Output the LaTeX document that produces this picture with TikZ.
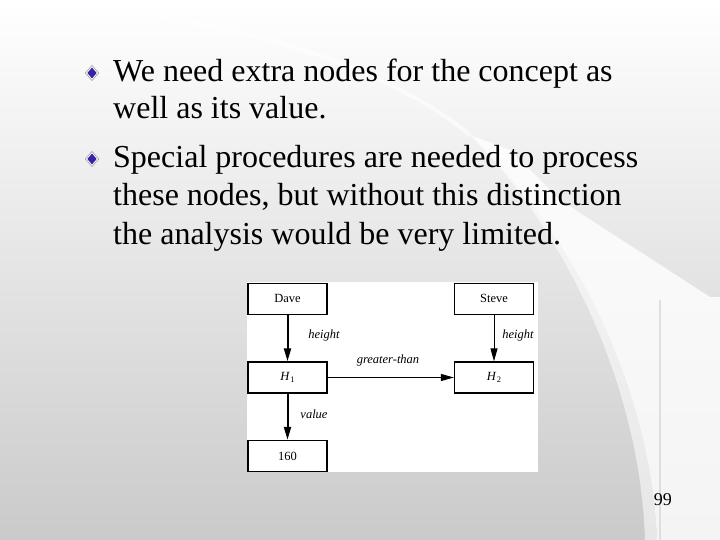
\documentclass[tikz,border=0pt]{standalone}
\usepackage{fontspec}
\setmainfont{Liberation Serif}
\usetikzlibrary{arrows.meta,calc}
\definecolor{bulletblue}{HTML}{3A22A8}
\definecolor{bgbottom}{HTML}{CACACA}
\newcommand\mybullet[1]{%
  \fill[gray!80] ($#1+(0,-8)$) -- ($#1+(7,0)$) -- ($#1+(0,8)$) -- ($#1+(-7,0)$) -- cycle;
  \fill[white] ($#1+(0,-7)$) -- ($#1+(6,0)$) -- ($#1+(0,7)$) -- ($#1+(-6,0)$) -- cycle;
  \fill[bulletblue] ($#1+(0,-5.5)$) -- ($#1+(4.6,0)$) -- ($#1+(0,5.5)$) -- ($#1+(-4.6,0)$) -- cycle;
}
\tikzset{
  bodyline/.style={anchor=base west, inner sep=0pt, font=\fontsize{32}{38}\selectfont},
  cbox/.style={draw=black, line width=1.3pt, minimum width=79pt, minimum height=31pt, inner sep=0pt, font=\fontsize{12.5}{14}\selectfont},
  elabel/.style={inner sep=0pt, font=\fontsize{12.5}{14}\selectfont\itshape},
  thinarrow/.style={line width=1pt, -{Triangle[length=13pt,width=7pt]}},
  thickarrow/.style={line width=2pt, -{Triangle[length=13pt,width=7pt]}},
}
\begin{document}
\begin{tikzpicture}[x=1pt,y=-1pt]
\useasboundingbox (0,0) rectangle (720,540);
% background
\shade[top color=white, bottom color=bgbottom] (0,0) rectangle (720,540);
\draw[white, line width=4pt, opacity=0.6] (0,3) .. controls (200,6) and (380,60) .. (470,135);
\fill[white, opacity=0.8] (470,135) .. controls (570,230) and (650,380) .. (657,540)
  -- (720,540) -- (720,297) -- (710,297) -- (560,200) -- (510,150) -- cycle;
\fill[white, opacity=0.55] (470,135) .. controls (560,225) and (640,380) .. (645,540)
  -- (657,540) .. controls (650,380) and (570,230) .. (470,135) -- cycle;
\draw[gray!25, line width=1.5pt] (660,300) -- (660,540);
% bullets
\mybullet{(92,73)}
\mybullet{(92,159)}
% text
\node[bodyline] (l1) at (113,82) {We need extra nodes for the concept as};
\node[bodyline] (l2) at (113,119) {well as its value.};
\node[bodyline] (l3) at (113,168) {Special procedures are needed to process};
\node[bodyline] (l4) at (113,206) {these nodes, but without this distinction};
\node[bodyline] (l5) at (113,244) {the analysis would be very limited.};
\node[anchor=base east, inner sep=0pt, font=\fontsize{18}{20}\selectfont] (num) at (672,505) {99};
% diagram
\fill[white] (247,282) rectangle (538,472);
\node[cbox] (dave) at (287.5,299) {\raisebox{2pt}{Dave}};
\node[cbox] (steve) at (494,299) {\raisebox{2pt}{Steve}};
\node[cbox] (h1) at (287.5,377.5) {\textit{H}\kern0.5pt\raisebox{-2pt}{\fontsize{8.5}{9}\selectfont 1}};
\node[cbox] (h2) at (494,377.5) {\textit{H}\kern0.5pt\raisebox{-2pt}{\fontsize{8.5}{9}\selectfont 2}};
\node[cbox] (v160) at (287.5,456) {160};
\draw[thickarrow] (dave) -- (h1);
\draw[thinarrow] (steve) -- (h2);
\draw[thinarrow] (h1) -- (h2);
\draw[thickarrow] (h1) -- (v160);
\node[elabel] (lh1) at (324,335) {height};
\node[elabel] (lh2) at (518,335) {height};
\node[elabel] (lgt) at (388,360) {greater-than};
\node[elabel] (lval) at (314,414) {value};
\end{tikzpicture}
\end{document}
